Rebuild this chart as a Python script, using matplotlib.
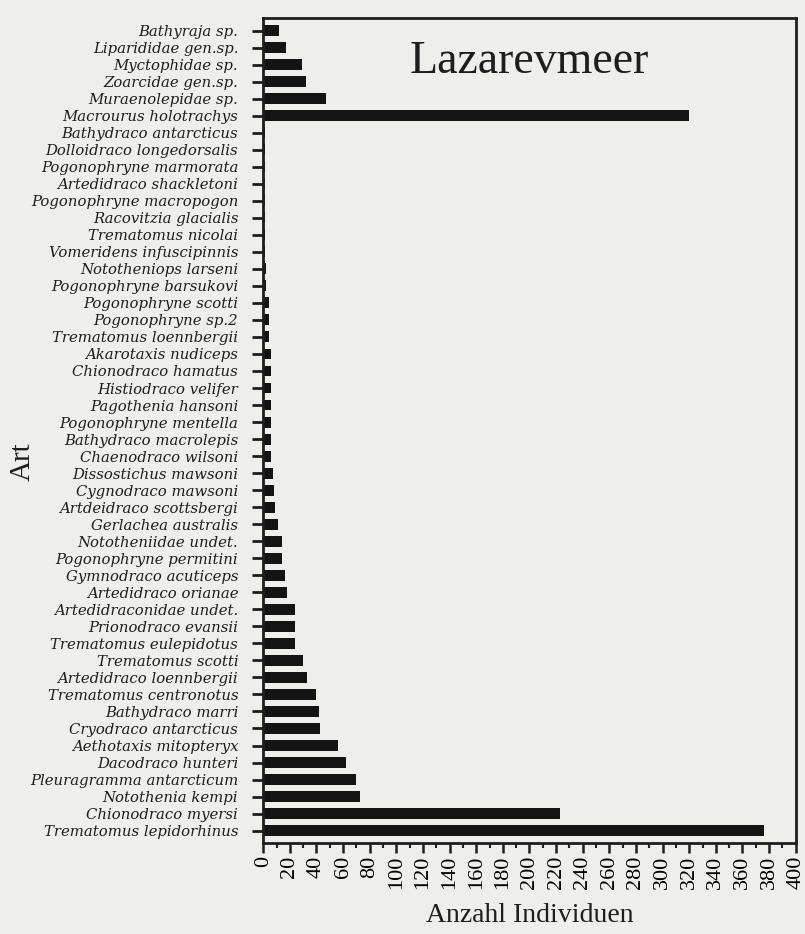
import matplotlib
matplotlib.use('Agg')
import matplotlib.pyplot as plt
from matplotlib.ticker import MultipleLocator

# Arten von oben nach unten, wie im Original
arten = [
    'Bathyraja sp.', 'Liparididae gen.sp.', 'Myctophidae sp.', 'Zoarcidae gen.sp.',
    'Muraenolepidae sp.', 'Macrourus holotrachys', 'Bathydraco antarcticus',
    'Dolloidraco longedorsalis', 'Pogonophryne marmorata', 'Artedidraco shackletoni',
    'Pogonophryne macropogon', 'Racovitzia glacialis', 'Trematomus nicolai',
    'Vomeridens infuscipinnis', 'Nototheniops larseni', 'Pogonophryne barsukovi',
    'Pogonophryne scotti', 'Pogonophryne sp.2', 'Trematomus loennbergii',
    'Akarotaxis nudiceps', 'Chionodraco hamatus', 'Histiodraco velifer',
    'Pagothenia hansoni', 'Pogonophryne mentella', 'Bathydraco macrolepis',
    'Chaenodraco wilsoni', 'Dissostichus mawsoni', 'Cygnodraco mawsoni',
    'Artdeidraco scottsbergi', 'Gerlachea australis', 'Nototheniidae undet.',
    'Pogonophryne permitini', 'Gymnodraco acuticeps', 'Artedidraco orianae',
    'Artedidraconidae undet.', 'Prionodraco evansii', 'Trematomus eulepidotus',
    'Trematomus scotti', 'Artedidraco loennbergii', 'Trematomus centronotus',
    'Bathydraco marri', 'Cryodraco antarcticus', 'Aethotaxis mitopteryx',
    'Dacodraco hunteri', 'Pleuragramma antarcticum', 'Notothenia kempi',
    'Chionodraco myersi', 'Trematomus lepidorhinus',
]
anzahl = [
    12, 17, 29, 32, 47, 320, 1, 1, 1, 1, 1, 1, 1, 1, 2, 2, 4, 4, 4,
    6, 6, 6, 6, 6, 6, 6, 7, 8, 9, 11, 14, 14, 16, 18, 24, 24, 24,
    30, 33, 40, 42, 43, 56, 62, 70, 73, 223, 376,
]

bg = '#eeeeec'
ink = '#1e1e1e'
fig = plt.figure(figsize=(8.05, 9.34), dpi=100, facecolor=bg)
ax = fig.add_axes([0.327, 0.097, 0.6615, 0.884])
ax.set_facecolor(bg)

pos = list(range(len(arten)))
ax.barh(pos, anzahl, height=0.64, color='#141414')

ax.set_ylim(len(arten) - 0.25, -0.75)
ax.set_xlim(0, 400)
ax.set_yticks(pos)
ax.set_yticklabels(arten, fontfamily='DejaVu Serif', fontstyle='italic',
                   fontsize=10.7, color=ink)
ax.xaxis.set_major_locator(MultipleLocator(20))
ax.xaxis.set_minor_locator(MultipleLocator(10))
for lab in ax.get_xticklabels():
    lab.set_rotation(90)
    lab.set_fontfamily('Liberation Serif')
    lab.set_fontsize(16)

ax.tick_params(axis='y', length=8, width=2, pad=10, color=ink)
ax.tick_params(axis='x', which='major', length=7, width=1.8, pad=2, color=ink)
ax.tick_params(axis='x', which='minor', length=3.5, width=1.5, color=ink)
for s in ax.spines.values():
    s.set_linewidth(2)
    s.set_color(ink)

ax.set_xlabel('Anzahl Individuen', fontfamily='Liberation Serif', fontsize=20,
              color=ink, labelpad=10)
fig.text(0.028, 0.506, 'Art', rotation=90, fontfamily='Liberation Serif',
         fontsize=21, color=ink, ha='center', va='center')
ax.text(0.5, 0.972, 'Lazarevmeer', transform=ax.transAxes, ha='center', va='top',
        fontfamily='Liberation Serif', fontsize=33, color=ink)

fig.savefig('out.png', dpi=100, facecolor=bg)
